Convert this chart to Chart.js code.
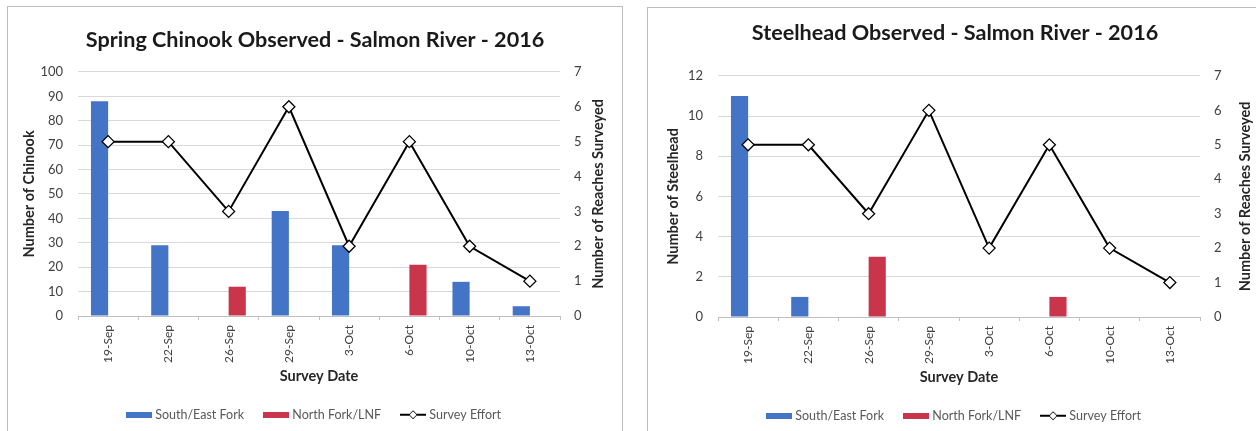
<!DOCTYPE html>
<html>
<head>
<meta charset="utf-8">
<title>Salmon River 2016</title>
<script src="https://cdn.jsdelivr.net/npm/chart.js@4.4.0/dist/chart.umd.min.js"></script>
<style>
  html, body { margin: 0; padding: 0; background: #fff; width: 1256px; height: 431px; overflow: hidden; }
  .panel { position: absolute; border: 1px solid #bdbdbd; background: #fff; overflow: hidden; }
  #p1 { left: 7px; top: 6px; width: 614px; height: 430px; }
  #p2 { left: 647px; top: 7px; width: 614px; height: 430px; }
  canvas { display: block; }
</style>
</head>
<body>
<div class="panel" id="p1"><canvas id="chinook" width="614" height="424"></canvas></div>
<div class="panel" id="p2"><canvas id="steelhead" width="614" height="424"></canvas></div>
<script>
const surveyDates = ["19-Sep", "22-Sep", "26-Sep", "29-Sep", "3-Oct", "6-Oct", "10-Oct", "13-Oct"];
const chinookSouthEast = [88, 29, 0, 43, 29, 0, 14, 4];
const chinookNorth = [0, 0, 12, 0, 0, 21, 0, 0];
const steelheadSouthEast = [11, 1, 0, 0, 0, 0, 0, 0];
const steelheadNorth = [0, 0, 3, 0, 0, 1, 0, 0];
const surveyEffort = [5, 5, 3, 6, 2, 5, 2, 1];
const seriesNames = ["South/East Fork", "North Fork/LNF", "Survey Effort"];

const FONT = "Lato, 'Open Sans', sans-serif";
const BLUE = "#4374c6";
const RED = "#c9354a";

// little legend icons: flat bar swatches and a line with a diamond
function barIcon(color) {
  const c = document.createElement("canvas");
  c.width = 26; c.height = 6;
  const g = c.getContext("2d");
  g.fillStyle = color;
  g.fillRect(0, 0, 26, 6);
  return c;
}
function lineIcon() {
  const c = document.createElement("canvas");
  c.width = 26; c.height = 10;
  const g = c.getContext("2d");
  g.strokeStyle = "#000";
  g.lineWidth = 2;
  g.beginPath(); g.moveTo(0, 5); g.lineTo(26, 5); g.stroke();
  g.fillStyle = "#fff";
  g.lineWidth = 1;
  g.beginPath();
  g.moveTo(13, 1); g.lineTo(17, 5); g.lineTo(13, 9); g.lineTo(9, 5); g.closePath();
  g.fill(); g.stroke();
  return c;
}
const legendIcons = [barIcon(BLUE), barIcon(RED), lineIcon()];

// right axis title, rotated the same way as the left one
const sideTitle = {
  id: "sideTitle",
  afterDraw(chart, args, opts) {
    const { ctx, chartArea } = chart;
    ctx.save();
    ctx.translate(opts.x, (chartArea.top + chartArea.bottom) / 2);
    ctx.rotate(-Math.PI / 2);
    ctx.font = "bold 14.5px " + FONT;
    ctx.fillStyle = "#262626";
    ctx.textAlign = "center";
    ctx.textBaseline = "middle";
    ctx.fillText(opts.text, 0, 0);
    ctx.restore();
  }
};

function makeChart(id, cfg) {
  return new Chart(document.getElementById(id), {
    type: "bar",
    data: {
      labels: surveyDates,
      datasets: [
        { label: seriesNames[0], data: cfg.southEast, backgroundColor: BLUE, order: 1, yAxisID: "y" },
        { label: seriesNames[1], data: cfg.north, backgroundColor: RED, order: 1, yAxisID: "y" },
        {
          type: "line", label: seriesNames[2], data: surveyEffort, yAxisID: "y1", order: 0,
          borderColor: "#000", borderWidth: 2, tension: 0,
          pointStyle: "rectRot", pointRadius: 6, pointHoverRadius: 6,
          pointBackgroundColor: "#fff", pointBorderColor: "#000", pointBorderWidth: 1.3
        }
      ]
    },
    options: {
      responsive: false,
      animation: false,
      layout: { padding: 0 },
      datasets: { bar: { categoryPercentage: 0.57, barPercentage: 1.0 } },
      plugins: {
        title: {
          display: true, text: cfg.title, color: "#1a1a1a",
          font: { family: FONT, size: 21.6, weight: "bold" },
          padding: cfg.titlePad
        },
        legend: {
          position: "bottom",
          labels: {
            // icons are 26px wide, drawn over a 20px slot so they sit close to the text
            usePointStyle: true, pointStyleWidth: 20, padding: 22,
            color: "#595959", font: { family: FONT, size: 12.5 },
            generateLabels(chart) {
              const items = Chart.defaults.plugins.legend.labels.generateLabels(chart);
              items.forEach(it => { it.pointStyle = legendIcons[it.datasetIndex]; it.rotation = 0; });
              return items.sort((a, b) => a.datasetIndex - b.datasetIndex);
            }
          }
        },
        tooltip: { enabled: false },
        sideTitle: { text: "Number of Reaches Surveyed", x: cfg.sideX }
      },
      scales: {
        x: {
          grid: { drawOnChartArea: false, tickLength: 4, color: "#bfbfbf" },
          border: { display: true, color: "#bfbfbf" },
          ticks: { minRotation: 90, maxRotation: 90, padding: 5, color: "#404040", font: { family: FONT, size: 12 } },
          title: { display: true, text: "Survey Date", color: "#262626", font: { family: FONT, size: 14.5, weight: "bold" }, padding: { top: 0, bottom: 1 } },
          afterFit(scale) { scale.height = 70.5; }
        },
        y: {
          position: "left", min: 0, max: cfg.max,
          ticks: { stepSize: cfg.step, padding: 15, color: "#404040", font: { family: FONT, size: 13 } },
          grid: { color: "#d9d9d9", drawTicks: false },
          border: { display: false },
          title: { display: true, text: cfg.yTitle, color: "#262626", font: { family: FONT, size: 14.5, weight: "bold" }, padding: { top: cfg.yTitlePad, bottom: 0 } },
          afterFit(scale) { scale.width = 70; }
        },
        y1: {
          position: "right", min: 0, max: 7,
          ticks: { stepSize: 1, padding: 14, color: "#404040", font: { family: FONT, size: 13 } },
          grid: { drawOnChartArea: false, drawTicks: false },
          border: { display: false },
          afterFit(scale) { scale.width = 62; }
        }
      }
    },
    plugins: [sideTitle]
  });
}

makeChart("chinook", {
  title: "Spring Chinook Observed - Salmon River - 2016",
  titlePad: { top: 20, bottom: 19 },
  southEast: chinookSouthEast, north: chinookNorth,
  max: 100, step: 10,
  yTitle: "Number of Chinook", yTitlePad: 13, sideX: 590
});

makeChart("steelhead", {
  title: "Steelhead Observed - Salmon River - 2016",
  titlePad: { top: 12, bottom: 30 },
  southEast: steelheadSouthEast, north: steelheadNorth,
  max: 12, step: 2,
  yTitle: "Number of Steelhead", yTitlePad: 17, sideX: 597
});
</script>
</body>
</html>
